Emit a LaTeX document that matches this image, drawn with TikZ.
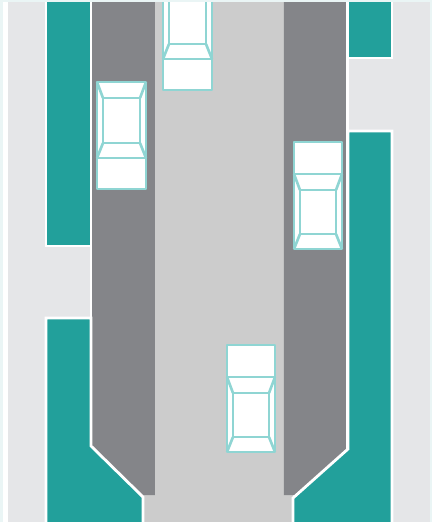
\documentclass[tikz,border=0pt]{standalone}
\definecolor{pale}{HTML}{EAF5F5}
\definecolor{walk}{HTML}{E5E6E8}
\definecolor{road}{HTML}{CCCCCC}
\definecolor{park}{HTML}{848589}
\definecolor{teal1}{HTML}{22A09B}
\definecolor{carline}{HTML}{8FD5D3}
\tikzset{
  roadway/.style={fill=road},
  parking/.style={fill=park},
  planter/.style={fill=teal1,draw=white,line width=1.6pt,line join=miter},
  curbline/.style={draw=white,line width=1.6pt},
  carbody/.style={fill=white,draw=carline,line width=1.5pt,line join=round},
  pics/carup/.style={code={
    \draw[carbody] (0,0) rectangle (49,107);
    \draw[carbody] (6,16) rectangle (43,61);
    \draw[carbody] (0,76) -- (49,76);
    \draw[carbody] (0,0) -- (6,16) (49,0) -- (43,16) (6,61) -- (0,76) (43,61) -- (49,76);
  }},
  pics/cardown/.style={code={
    \draw[carbody] (0,0) rectangle (48,107);
    \draw[carbody] (6,48) rectangle (42,92);
    \draw[carbody] (0,32) -- (48,32);
    \draw[carbody] (0,32) -- (6,48) (48,32) -- (42,48) (6,92) -- (0,107) (42,92) -- (48,107);
  }}
}
\begin{document}
\begin{tikzpicture}[x=0.02cm,y=-0.02cm]
  \useasboundingbox (0,0) rectangle (432,522);
  \fill[pale] (0,0) rectangle (432,522);
  \begin{scope}
    \clip (0,2) rectangle (430,522);
    \fill[white] (3,2) rectangle (8,522);
    \fill[walk] (8,2) rectangle (430,522);
    \fill[roadway] (143,2) rectangle (293,522);
    % parking strips
    \fill[parking] (91,2) -- (155,2) -- (155,495) -- (143,495) -- (91,446) -- cycle;
    \fill[parking] (284,2) -- (347,2) -- (347,449) -- (296,495) -- (284,495) -- cycle;
    \draw[curbline] (91,2) -- (91,446);
    \draw[curbline] (347.5,2) -- (347.5,449);
    % planters
    \draw[planter] (46,-5) rectangle (91,246);
    \draw[planter] (46,318) -- (91,318) -- (91,446) -- (143,497) -- (143,530) -- (46,530) -- cycle;
    \draw[planter] (348,-5) rectangle (392,58);
    \draw[planter] (348,131) -- (392,131) -- (392,530) -- (293,530) -- (293,498) -- (348,449) -- cycle;
  \end{scope}
  \foreach \cx/\cy in {97/82,163/-17} {
    \pic at (\cx,\cy) {carup};
  }
  \foreach \cx/\cy in {294/142,227/345} {
    \pic at (\cx,\cy) {cardown};
  }
  \fill[pale] (143,0) rectangle (293,2);
\end{tikzpicture}
\end{document}
